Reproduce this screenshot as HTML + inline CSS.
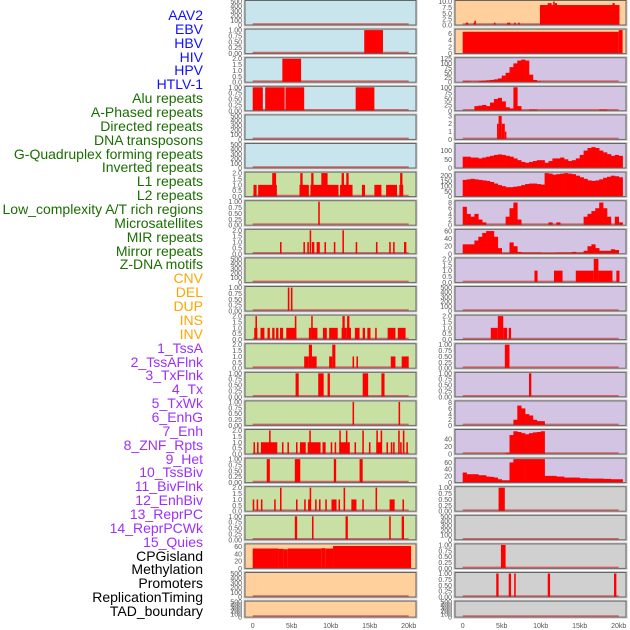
<!DOCTYPE html>
<html><head><meta charset="utf-8">
<style>
body{margin:0;background:#fff;width:630px;height:630px;overflow:hidden;font-family:"Liberation Sans",sans-serif}
#labels div{position:absolute;right:427px;font-size:14px;line-height:14px;white-space:nowrap}
svg{position:absolute;left:0;top:0}
</style></head><body>
<div id="labels"></div>
<svg id="chart" width="630" height="630"></svg>
<script>
const trackNames=["AAV2","EBV","HBV","HIV","HPV","HTLV-1","Alu repeats","A-Phased repeats","Directed repeats","DNA transposons","G-Quadruplex forming repeats","Inverted repeats","L1 repeats","L2 repeats","Low_complexity A/T rich regions","Microsatellites","MIR repeats","Mirror repeats","Z-DNA motifs","CNV","DEL","DUP","INS","INV","1_TssA","2_TssAFlnk","3_TxFlnk","4_Tx","5_TxWk","6_EnhG","7_Enh","8_ZNF_Rpts","9_Het","10_TssBiv","11_BivFlnk","12_EnhBiv","13_ReprPC","14_ReprPCWk","15_Quies","CPGisland","Methylation","Promoters","ReplicationTiming","TAD_boundary"];
const trackGroups=[6,13,5,15,5];
const groupColors=["#1010ff","#1a6e00","#ffa500","#9b30ff","#000000"];
const xTicks=[0,5,10,15,20];
const xTickLabels=["0","5kb","10kb","15kb","20kb"];
const T500=["0","100","200","300","400","500"],T1=["0.00","0.25","0.50","0.75","1.00"],T2=["0.0","0.5","1.0","1.5","2.0"];
// bars: [startKb,endKb,value]; curves: values at 0.5kb bins starting 0kb
const L_EBV=[[14.3,16.7,1]];
const L_HIV=[[3.8,6.2,2]];
const L_Alu=[[0,1.3,1],[1.6,4.1,1],[4.2,6.6,1],[13.2,15.6,1]];
const L_Inv=[[0.1,0.5,1],[0.7,3.1,1],[2.5,3.0,2],[6.0,7.2,1],[6.1,6.4,2],[7.4,11.0,1],[7.5,7.8,2],[8.8,9.6,2],[11.2,12.8,1],[11.4,11.7,2],[12.0,12.3,2],[14.0,14.4,1],[15.6,16.5,1],[17.1,18.5,1],[18.8,19.3,1],[18.9,19.2,2]];
const L_L2=[[8.4,8.6,1]];
const L_Low=[[3.5,3.7,1],[6.5,6.7,1],[7.0,7.2,1],[7.3,7.5,2],[7.6,7.9,1],[8.2,8.6,1],[9.2,9.4,1],[10.4,10.6,1],[11.5,11.7,2],[13.2,13.4,1],[15.8,16.0,1],[17.5,17.7,1],[18.0,18.2,1],[19.4,19.7,1]];
const L_Mirror=[[4.5,4.7,1],[4.9,5.1,1]];
const L_INS=[[0.2,0.6,1],[0.35,0.55,2],[1.0,1.5,1],[1.9,2.2,1],[2.5,2.8,1],[3.0,3.3,1],[3.5,3.9,1],[4.3,5.6,1],[5.4,5.6,2],[7.2,7.5,1],[7.5,8.3,1],[7.5,7.7,2],[9.0,9.5,1],[9.8,10.9,1],[11.4,12.0,1],[11.5,11.8,2],[12.0,12.6,1],[12.1,12.4,2],[13.1,13.7,1],[14.1,14.4,1],[14.7,15.1,1],[15.7,15.9,1],[17.3,18.3,1],[18.6,19.6,1]];
const L_TssA=[[6.6,7.2,1],[7.2,7.6,2],[7.6,8.2,1],[9.8,10.2,1],[10.2,10.6,2],[12.8,13.0,1],[13.3,13.5,1],[17.7,18.3,1],[19.1,20.0,1]];
const L_TssAF=[[5.5,5.9,1],[8.4,9.1,1],[9.6,9.9,1],[14.1,14.8,1],[16.5,16.9,1]];
const L_TxF=[[12.8,13.0,1],[18.7,18.9,1]];
const L_ZNF=[[0.1,0.3,1],[0.55,0.75,1],[1.05,3.15,1],[2.1,2.3,2],[3.75,3.95,1],[4.45,4.65,1],[5.55,5.75,1],[6.05,6.8,1],[7.05,8.7,1],[7.25,7.45,2],[8.95,9.35,1],[10.0,10.2,1],[10.5,10.7,1],[11.1,12.45,1],[11.1,11.3,2],[11.95,12.15,2],[13.05,13.25,1],[14.05,14.25,2],[14.9,15.1,1],[15.85,16.5,1],[15.85,16.05,2],[16.4,16.6,2],[17.15,17.35,1],[17.7,17.9,1],[18.0,18.2,1],[18.65,18.85,2],[18.9,19.1,1],[19.25,19.45,2],[19.7,19.9,1]];
const L_Het=[[1.8,2.2,1],[5.4,6.1,1],[10.4,10.7,1],[13.7,14.1,1]];
const L_TssBiv=[[0.0,0.2,1],[0.5,0.7,1],[1.05,1.25,1],[2.75,2.95,1],[3.5,3.7,2],[5.55,5.75,1],[6.6,6.8,1],[7.1,7.35,1],[7.3,7.5,2],[8.0,8.2,1],[8.5,8.7,1],[9.3,9.5,1],[10.1,10.75,1],[11.0,11.2,1],[11.65,11.85,2],[12.65,13.3,1],[14.05,14.25,1],[15.75,15.95,2],[17.55,18.2,1],[19.2,19.4,1]];
const L_EnhBiv=[[5.4,5.7,1],[7.6,7.8,1],[11.9,12.2,1],[17.5,17.7,1],[19.1,19.4,1]];
const L_CPG=[[0,3.3,55],[3.3,4.0,54],[4.0,4.5,53],[4.5,8.8,55],[8.8,9.3,56],[9.3,10.3,55],[10.3,20.3,62]];
const R_AAV2=[[0.4,0.7,1],[1.4,1.6,1],[1.5,1.7,1.8],[4.0,4.2,1],[5.7,6.1,1],[6.6,6.8,1],[7.1,7.3,1],[9.9,20.1,8.5],[10.9,11.4,9.3],[11.6,11.8,10],[11.8,12.1,9.3],[19.2,19.5,9.3]];
const R_HBV=[[0,20.0,6.5],[20.0,20.5,7]];
const R_HIVc=[5,5,2,3,6,8,10,12,15,20,35,50,80,100,115,120,115,40,12,5,0];
const R_Aluc=[0,0,0,20,22,25,20,35,50,55,40,15,10,100,20,0,0,5,5,0,0,0,0,0,0,0,0,0,0,0,0,0,0,0,0,5,5];
const R_Dir=[[4.4,4.6,2],[4.6,5.0,3],[5.0,5.4,2],[5.4,5.6,1]];
const R_Gq=[65,65,60,60,55,60,65,70,75,78,75,70,65,55,45,35,30,35,40,45,45,30,40,55,55,60,50,40,45,55,75,100,115,120,115,100,90,80,70,75,70];
const R_L1=[160,165,170,165,160,155,150,140,125,110,100,90,90,95,100,110,120,125,125,120,115,225,220,210,215,220,225,220,215,200,185,170,155,150,155,165,180,190,200,195,185];
const R_L2=[6.5,4,3,4,2,1,0,0,0,0,0,3,6,8,2,0,0,0,0,0,0,0,1,0,1,0,0,0,0,0,0,3,4,5,6,8,6,3,0,3,1];
const R_Low=[25,25,25,35,45,55,60,60,45,15,2,2,30,20,5,3,3,3,3,3,2,2,2,2,3,3,3,3,5,3,3,8,20,25,15,8,8,8,12,10];
const R_MIR=[[9.2,9.6,1],[11.7,12.8,1],[14.5,16.8,1],[16.8,17.4,2],[17.4,19.2,1],[19.7,20.1,1]];
const R_INS=[[3.6,4.5,1],[4.5,5.2,2],[5.2,5.7,1],[5.9,6.2,1]];
const R_TssA=[[5.4,6.0,1]];
const R_TssAF=[[8.5,8.8,1]];
const R_TxFc=[0,0,0,0,0,0,0,0,0,0,0,0,0,2,7,6,4,3.5,2,1.5,1.5];
const R_ZNFc=[0,0,0,0,0,0,0,0,0,0,0,3,50,60,58,55,52,55,57,58,60];
const R_Hetc=[30,25,25,25,22,22,18,17,15,10,7,7,60,70,70,70,70,70,70,70,70,20,20,20,18,18,15,15,15,15,13,13,12,12,12,12,11,11,10,10,10];
const R_TssBiv=[[4.6,5.4,1]];
const R_CPG=[[4.9,5.5,1]];
const R_Prom=[[4.3,4.6,1],[5.9,6.2,1],[6.6,6.8,1],[10.9,11.2,1],[19.4,19.7,1]];
const BLUE="#c8e4ec",GREEN="#c8e0a4",ORANGE="#ffd09c",PURPLE="#d4c4e4",GRAY="#d0d0d0";
const rows=[
 [[BLUE,500,T500,[]],[ORANGE,10,["0.0","2.5","5.0","7.5","10.0"],R_AAV2]],
 [[BLUE,1,T1,L_EBV],[ORANGE,7,["0","2","4","6"],R_HBV,null,2]],
 [[BLUE,2,T2,L_HIV],[PURPLE,125,["0","25","50","75","100","125"],null,R_HIVc]],
 [[BLUE,1,T1,L_Alu],[PURPLE,100,["0","25","50","75","100"],null,R_Aluc]],
 [[BLUE,500,T500,[]],[PURPLE,3,["0","1","2","3"],R_Dir]],
 [[BLUE,500,T500,[]],[PURPLE,135,["0","50","100"],null,R_Gq,50]],
 [[GREEN,2,T2,L_Inv],[PURPLE,225,["0","50","100","150","200"],null,R_L1,50]],
 [[GREEN,1,T1,L_L2],[PURPLE,8.3,["0","2","4","6","8"],null,R_L2,2]],
 [[GREEN,2,T2,L_Low],[PURPLE,62,["0","20","40","60"],null,R_Low,20]],
 [[GREEN,500,T500,[]],[PURPLE,2,T2,R_MIR]],
 [[GREEN,1,T1,L_Mirror],[PURPLE,500,T500,[]]],
 [[GREEN,2,T2,L_INS],[PURPLE,2,T2,R_INS]],
 [[GREEN,2,T2,L_TssA],[PURPLE,1,T1,R_TssA]],
 [[GREEN,1,T1,L_TssAF],[PURPLE,1,T1,R_TssAF]],
 [[GREEN,1,T1,L_TxF],[PURPLE,8.3,["0","2","4","6","8"],null,R_TxFc,2]],
 [[GREEN,2,T2,L_ZNF],[PURPLE,62,["0","20","40"],null,R_ZNFc,20]],
 [[GREEN,1,T1,L_Het],[PURPLE,70,["0","20","40","60"],null,R_Hetc,20]],
 [[GREEN,2,T2,L_TssBiv],[GRAY,1,T1,R_TssBiv]],
 [[GREEN,1,T1,L_EnhBiv],[GRAY,500,T500,[]]],
 [[ORANGE,65,["0","20","40","60"],L_CPG,null,20],[GRAY,1,T1,R_CPG]],
 [[ORANGE,500,T500,[]],[GRAY,1,T1,R_Prom]],
 [[ORANGE,500,T500,[]],[GRAY,500,T500,[]]]
];
const NS="http://www.w3.org/2000/svg";
const svg=document.getElementById("chart");
function el(tag,attrs,parent){const e=document.createElementNS(NS,tag);for(const k in attrs)e.setAttribute(k,attrs[k]);(parent||svg).appendChild(e);return e;}
const lab=document.getElementById("labels");
let gi=0,gc=0;
trackNames.forEach((n,i)=>{
  while(gc>=trackGroups[gi]){gi++;gc=0;}
  gc++;
  const d=document.createElement("div");
  
  
  d.style.top=(8+i*13.86)+"px";d.style.color=groupColors[gi];d.textContent=n;lab.appendChild(d);
});
const colX=[245,455];
function xScale(col,kb){return colX[col]+7.7+kb*7.8;}
rows.forEach((row,r)=>{
  const top=r*28.6+0.5,h=(r===21?16:24.5);
  row.forEach((p,c)=>{
    const [bg,ymax,ticks,bars,curve]=p;
    const x0=colX[c],w=171;
    const yS=v=>top+h-v/ymax*(h-1);
    const g=el("g",{});
    
    
    el("rect",{x:x0-1,y:top-1,width:w+2,height:h+2,fill:"none",stroke:"#c8c8c8","stroke-width":1},g);
    el("rect",{x:x0,y:top,width:w,height:h,fill:bg},g);
    el("line",{x1:xScale(c,0),x2:xScale(c,20),y1:top+h-1,y2:top+h-1,stroke:"#d86060","stroke-width":1.6},g);
    if(bars)bars.forEach(b=>{
      const rc=el("rect",{x:xScale(c,b[0]),y:yS(b[2]),width:Math.max(1,xScale(c,b[1])-xScale(c,b[0])),height:top+h-yS(b[2]),fill:"#ff0000"},g);
      
      
    });
    if(curve)curve.forEach((v,i)=>{
      if(v<=0)return;
      const rc=el("rect",{x:xScale(c,i*0.5),y:yS(v),width:xScale(c,0.5)-xScale(c,0)+0.3,height:top+h-yS(v),fill:"#ff0000"},g);
      
      
    });
    el("rect",{x:x0,y:top,width:w,height:h,fill:"none",stroke:"#666","stroke-width":1},g);
    const step=p[5]!=null?p[5]:(ymax/(ticks.length-1));
    ticks.forEach((t,i)=>{
      const v=i*step;
      const tx=el("text",{x:x0-3,y:yS(v)+2.5,"font-size":7,fill:"#555","text-anchor":"end","font-family":"Liberation Sans, sans-serif"},g);
      
      
      tx.textContent=t;
    });
  });
});
[0,1].forEach(c=>xTicks.forEach((k,i)=>{
  const t=el("text",{x:xScale(c,k),y:628,"font-size":7,fill:"#555","text-anchor":"middle","font-family":"Liberation Sans, sans-serif"});
  
  
  t.textContent=xTickLabels[i];
}));
</script>
</body></html>
